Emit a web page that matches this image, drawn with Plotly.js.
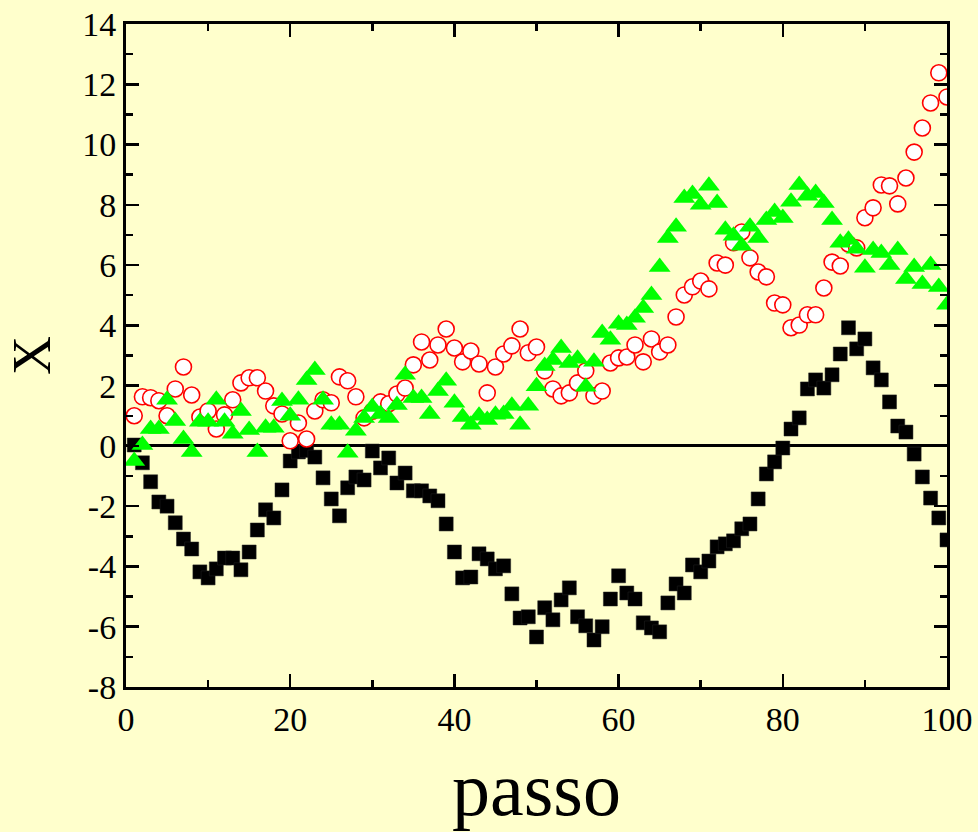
<!DOCTYPE html>
<html>
<head>
<meta charset="utf-8">
<script src="https://cdn.plot.ly/plotly-3.0.1.min.js"></script>
<style>
  html, body { margin: 0; padding: 0; background: #FFFFCC; }
  #chart { width: 978px; height: 832px; }
</style>
</head>
<body>
<div id="chart"></div>
<script>
// step index (passo)
const passo = [1,2,3,4,5,6,7,8,9,10,11,12,13,14,15,16,17,18,19,20,
  21,22,23,24,25,26,27,28,29,30,31,32,33,34,35,36,37,38,39,40,
  41,42,43,44,45,46,47,48,49,50,51,52,53,54,55,56,57,58,59,60,
  61,62,63,64,65,66,67,68,69,70,71,72,73,74,75,76,77,78,79,80,
  81,82,83,84,85,86,87,88,89,90,91,92,93,94,95,96,97,98,99,100];

// black squares
const serieNera = [0.03,-0.56,-1.19,-1.86,-2.0,-2.55,-3.09,-3.42,-4.18,-4.38,
  -4.08,-3.72,-3.72,-4.11,-3.52,-2.79,-2.12,-2.39,-1.46,-0.5,
  -0.2,-0.15,-0.37,-1.06,-1.76,-2.32,-1.39,-1.03,-1.13,-0.17,
  -0.73,-0.4,-1.23,-0.9,-1.49,-1.49,-1.66,-1.82,-2.59,-3.52,
  -4.38,-4.35,-3.58,-3.75,-4.08,-3.98,-4.91,-5.71,-5.67,-6.34,
  -5.37,-5.77,-5.11,-4.71,-5.67,-5.97,-6.44,-6.0,-5.08,-4.31,
  -4.88,-5.08,-5.87,-6.04,-6.17,-5.21,-4.58,-4.88,-3.95,-4.18,
  -3.82,-3.35,-3.25,-3.15,-2.75,-2.59,-1.76,-0.93,-0.53,-0.07,
  0.56,0.93,1.89,2.19,1.92,2.36,3.05,3.92,3.22,3.55,
  2.59,2.19,1.46,0.66,0.46,-0.27,-1.03,-1.73,-2.39,-3.12];

// red open circles
const serieRossa = [1.0,1.63,1.6,1.5,1.0,1.89,2.62,1.69,0.96,1.16,
  0.56,1.03,1.53,2.09,2.26,2.26,1.82,1.33,1.06,0.17,
  0.76,0.23,1.16,1.53,1.43,2.29,2.16,1.63,0.93,1.15,
  1.46,1.4,1.72,1.92,2.69,3.45,2.85,3.35,3.88,3.25,
  2.79,3.15,2.72,1.76,2.62,3.05,3.32,3.88,3.09,3.28,
  2.49,1.89,1.66,1.76,2.09,2.49,1.66,1.82,2.75,2.92,
  2.95,3.35,2.79,3.55,3.12,3.35,4.28,5.01,5.28,5.47,
  5.21,6.07,6.0,6.74,7.1,6.24,5.77,5.61,4.74,4.68,
  3.92,4.01,4.35,4.35,5.24,6.1,5.97,6.7,6.57,7.57,
  7.9,8.66,8.63,8.03,8.89,9.75,10.55,11.38,12.38,11.58];

// green triangles
const serieVerde = [-0.5,0.03,0.56,0.56,1.53,0.83,0.23,-0.2,0.8,0.8,
  1.53,0.8,0.4,1.16,0.53,-0.2,0.6,0.6,1.49,1.0,
  1.53,2.19,2.52,1.53,0.7,0.7,-0.23,0.5,0.93,1.29,
  1.06,0.93,1.36,2.36,1.59,1.59,1.06,1.82,2.16,1.43,
  0.96,0.7,1.0,0.86,1.03,1.06,1.33,0.7,1.33,1.98,
  2.65,2.85,3.25,2.75,2.89,1.96,2.79,3.75,3.52,4.05,
  4.01,4.25,4.58,5.01,5.94,6.9,7.27,8.23,8.36,8.0,
  8.63,8.06,7.17,6.97,6.64,7.27,6.9,7.5,7.76,7.56,
  8.1,8.66,8.3,8.39,8.06,7.5,6.74,6.84,6.54,5.91,
  6.5,6.4,6.0,6.5,5.54,5.94,5.37,6.0,5.27,4.68];

const xTickVals = [0,20,40,60,80,100];
const yTickVals = [-8,-6,-4,-2,0,2,4,6,8,10,12,14];

const serif = 'Liberation Serif, Times New Roman, serif';

const traces = [
  { x: passo, y: serieNera, mode: 'markers', type: 'scatter',
    marker: { symbol: 'square', size: 14, color: '#000000', line: { width: 0.5, color: '#222222' } } },
  { x: passo, y: serieRossa, mode: 'markers', type: 'scatter',
    marker: { symbol: 'circle', size: 16, color: '#FFFFFF', line: { width: 1.6, color: '#FF0000' } } },
  { x: passo, y: serieVerde, mode: 'markers', type: 'scatter',
    marker: { symbol: 'triangle-up', size: 19, color: '#00FF00', line: { width: 0 } } }
];

const axisCommon = {
  showgrid: false,
  showline: true,
  linecolor: '#000000',
  linewidth: 3,
  mirror: 'allticks',
  ticks: 'inside',
  ticklen: 13,
  tickwidth: 2.5,
  tickcolor: '#000000',
  tickfont: { family: serif, size: 34, color: '#000000' }
};

const layout = {
  width: 978, height: 832,
  paper_bgcolor: '#FFFFCC',
  plot_bgcolor: '#FFFFCC',
  showlegend: false,
  margin: { l: 126, r: 31, t: 24, b: 145 },
  xaxis: Object.assign({}, axisCommon, {
    range: [0, 100],
    tickvals: xTickVals,
    ticktext: xTickVals.map(String),
    zeroline: false,
    minor: { dtick: 10, ticks: 'inside', ticklen: 7, tickwidth: 2.5, tickcolor: '#000000', showgrid: false },
    title: { text: 'passo', font: { family: serif, size: 76, color: '#000000' }, standoff: 26 }
  }),
  yaxis: Object.assign({}, axisCommon, {
    range: [-8, 14],
    tickvals: yTickVals,
    ticktext: yTickVals.map(String),
    zeroline: true,
    zerolinecolor: '#000000',
    zerolinewidth: 3,
    minor: { dtick: 1, ticks: 'inside', ticklen: 7, tickwidth: 2.5, tickcolor: '#000000', showgrid: false },
    title: { text: 'X', font: { family: serif, size: 54, color: '#000000' }, standoff: 15 }
  })
};

Plotly.newPlot('chart', traces, layout, { displayModeBar: false, staticPlot: true });
</script>
</body>
</html>
